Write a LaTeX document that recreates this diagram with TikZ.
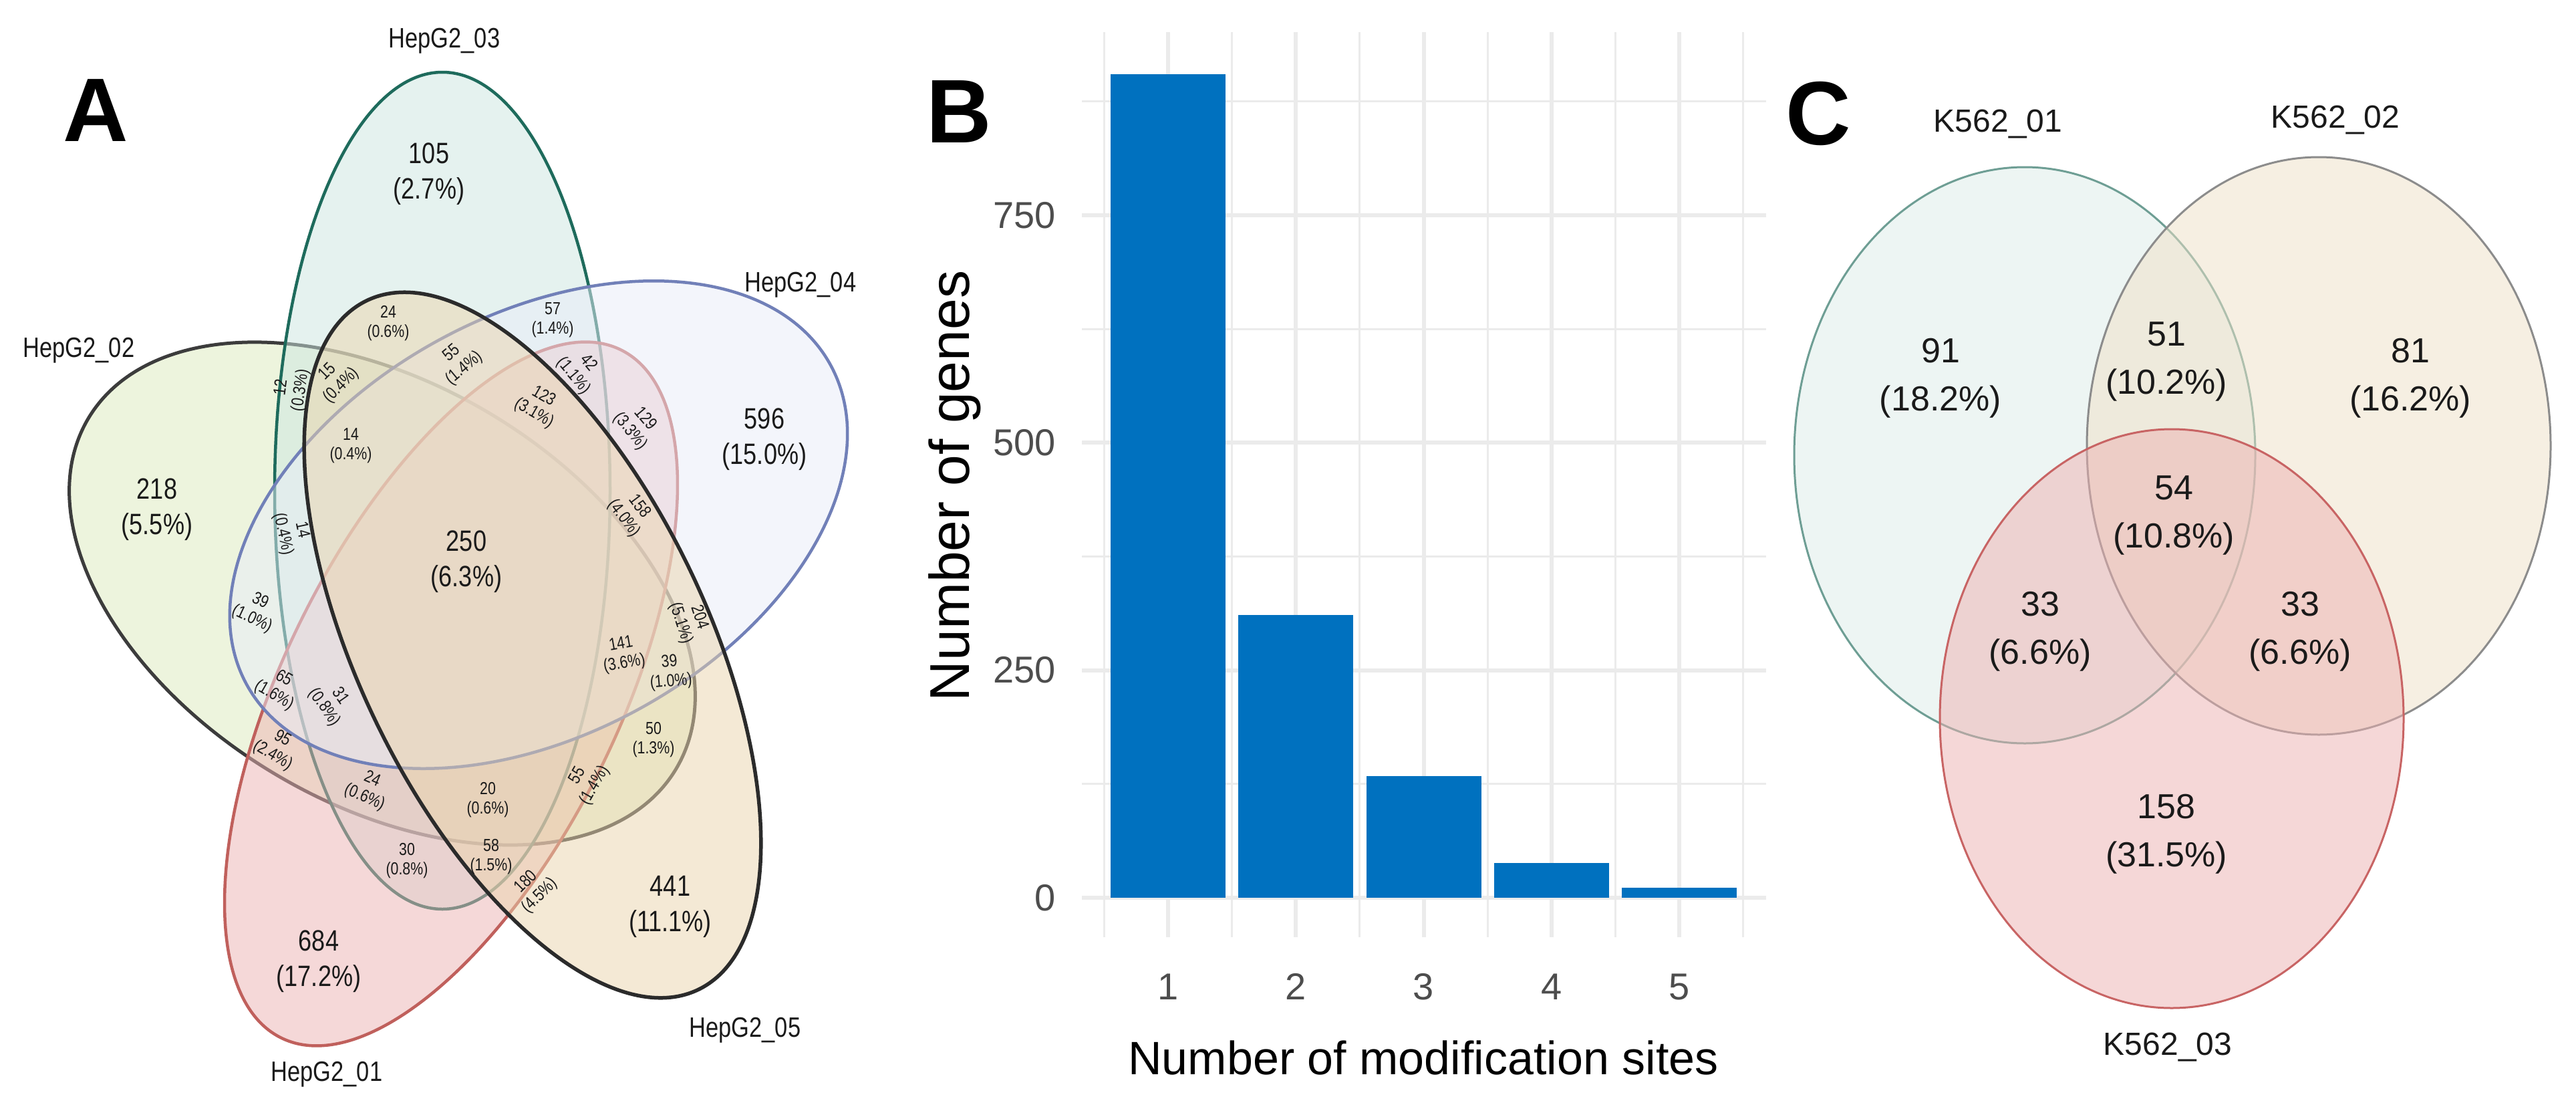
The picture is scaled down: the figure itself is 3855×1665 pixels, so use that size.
\documentclass[tikz,border=0pt]{standalone}
\usepackage{fontspec}
\setmainfont{Liberation Sans}
\newfontfamily\nar[FakeStretch=0.82]{Liberation Sans}
\definecolor{txt}{HTML}{1A1A1A}
\definecolor{b01}{HTML}{C0605C}\definecolor{f01}{HTML}{EDB3B3}
\definecolor{b02}{HTML}{3C3C3C}\definecolor{f02}{HTML}{DDEBBD}
\definecolor{b03}{HTML}{1E6B5C}\definecolor{f03}{HTML}{CDE7E1}
\definecolor{b04}{HTML}{7180B8}\definecolor{f04}{HTML}{E9EDF9}
\definecolor{b05}{HTML}{2B2B2B}\definecolor{f05}{HTML}{EBD5AD}
\definecolor{gridc}{HTML}{EBEBEB}
\definecolor{barc}{HTML}{0071BF}
\definecolor{tick}{HTML}{4D4D4D}
\definecolor{kb1}{HTML}{6E9E94}\definecolor{kf1}{HTML}{DDEDE9}
\definecolor{kb2}{HTML}{8C8C8C}\definecolor{kf2}{HTML}{EFE1C7}
\definecolor{kb3}{HTML}{C86464}\definecolor{kf3}{HTML}{EDB1B1}
\begin{document}
\begin{tikzpicture}[x=1pt,y=-1pt,
  big/.style={font=\nar\fontsize{44}{53}\selectfont, align=center, text=txt, inner sep=0pt},
  sm/.style={font=\nar\fontsize{26}{29}\selectfont, align=center, text=txt, inner sep=0pt},
  setlab/.style={font=\nar\fontsize{42}{50}\selectfont, text=txt, inner sep=0pt},
  panel/.style={font=\fontsize{135}{150}\selectfont\bfseries, inner sep=0pt},
  vset/.style={line width=4.5pt, fill opacity=0.5},
  klab/.style={font=\fontsize{52}{72}\selectfont, align=center, text=txt, inner sep=0pt},
  kset/.style={font=\fontsize{48}{56}\selectfont, text=txt, inner sep=0pt},
  kcirc/.style={line width=3pt, fill opacity=0.5},
  tlab/.style={font=\fontsize{56}{60}\selectfont, text=tick, inner sep=0pt},
  majg/.style={draw=gridc, line width=6pt},
  ming/.style={draw=gridc, line width=3pt},
  bar/.style={fill=barc, draw=none}]
\fill[white] (0,0) rectangle (3855,1665);
\useasboundingbox (0,0) rectangle (3855,1665);

% ---------------- Panel A ----------------
\node[panel] (pA) at (143,165) {A};
\draw[vset, line width=5pt, draw=b02, fill=f02, rotate around={-30.8:(572,888)}] (572,888) ellipse [x radius=512, y radius=314];
\draw[vset, draw=b03, fill=f03] (662,734) ellipse [x radius=251, y radius=626];
\draw[vset, draw=b01, fill=f01, rotate around={63.7:(675,1038)}] (675,1038) ellipse [x radius=574, y radius=250];
\draw[vset, draw=b04, fill=f04, rotate around={28.7:(806,785)}] (806,785) ellipse [x radius=498, y radius=314];
\draw[vset, line width=5.5pt, draw=b05, fill=f05, rotate around={-64.3:(797,965)}] (797,965) ellipse [x radius=572, y radius=261];

\node[setlab] (s03) at (665,61) {HepG2\_03};
\node[setlab] (s04) at (1198,426) {HepG2\_04};
\node[setlab] (s02) at (118,524) {HepG2\_02};
\node[setlab] (s05) at (1115,1541) {HepG2\_05};
\node[setlab] (s01) at (489,1607) {HepG2\_01};

\node[big] (a105) at (642,260) {105\\(2.7\%)};
\node[big] (a596) at (1144,657) {596\\(15.0\%)};
\node[big] (a218) at (235,762) {218\\(5.5\%)};
\node[big] (a250) at (698,840) {250\\(6.3\%)};
\node[big] (a684) at (477,1438) {684\\(17.2\%)};
\node[big] (a441) at (1003,1356) {441\\(11.1\%)};

\node[sm] (r1) at (581,484) {24\\(0.6\%)};
\node[sm] (r2) at (827,479) {57\\(1.4\%)};
\node[sm, rotate=40] (r3) at (686,540) {55\\(1.4\%)};
\node[sm, rotate=82] (r4) at (436,582) {12\\(0.3\%)};
\node[sm, rotate=45] (r5) at (501,567) {15\\(0.4\%)};
\node[sm] (r6) at (525,667) {14\\(0.4\%)};
\node[sm, rotate=-30] (r7) at (806,606) {123\\(3.1\%)};
\node[sm, rotate=-50] (r8) at (869,553) {42\\(1.1\%)};
\node[sm, rotate=-50] (r9) at (954,636) {129\\(3.3\%)};
\node[sm, rotate=-53] (r10) at (945,767) {158\\(4.0\%)};
\node[sm, rotate=-78] (r11) at (437,796) {14\\(0.4\%)};
\node[sm, rotate=-25] (r12) at (383,913) {39\\(1.0\%)};
\node[sm, rotate=-30] (r13) at (417,1028) {65\\(1.6\%)};
\node[sm, rotate=-55] (r14) at (497,1050) {31\\(0.8\%)};
\node[sm, rotate=-30] (r15) at (415,1118) {95\\(2.4\%)};
\node[sm, rotate=-23] (r16) at (551,1180) {24\\(0.6\%)};
\node[sm] (r17) at (730,1197) {20\\(0.6\%)};
\node[sm] (r18) at (609,1288) {30\\(0.8\%)};
\node[sm] (r19) at (735,1282) {58\\(1.5\%)};
\node[sm, rotate=45] (r20) at (798,1330) {180\\(4.5\%)};
\node[sm, rotate=60] (r21) at (878,1168) {55\\(1.4\%)};
\node[sm, rotate=10] (r22) at (932,979) {141\\(3.6\%)};
\node[sm, rotate=5] (r23) at (1003,1006) {39\\(1.0\%)};
\node[sm, rotate=-72] (r24) at (1032,928) {204\\(5.1\%)};
\node[sm] (r25) at (978,1107) {50\\(1.3\%)};

% ---------------- Panel B ----------------
\node[panel] (pB) at (1435,167) {B};
\foreach \yy in {1172.8,832.5,492.2,151.9}{\draw[ming] (1619,\yy) -- (2643,\yy);}
\foreach \xx in {1652.4,1843.6,2034.9,2226.1,2417.4,2608.6}{\draw[ming] (\xx,48) -- (\xx,1402);}
\foreach \yy in {1343,1002.7,662.4,322.0}{\draw[majg] (1619,\yy) -- (2643,\yy);}
\foreach \xx in {1748,1939.25,2130.5,2321.75,2513}{\draw[majg] (\xx,48) -- (\xx,1402);}
\fill[bar] (1662,111) rectangle (1834,1343);
\fill[bar] (1853.25,919.6) rectangle (2025.25,1343);
\fill[bar] (2044.5,1160.6) rectangle (2216.5,1343);
\fill[bar] (2235.75,1291.3) rectangle (2407.75,1343);
\fill[bar] (2427,1328) rectangle (2599,1343);
\node[tlab, anchor=east] (y750) at (1580,322) {750};
\node[tlab, anchor=east] (y500) at (1580,662.4) {500};
\node[tlab, anchor=east] (y250) at (1580,1002.7) {250};
\node[tlab, anchor=east] (y0) at (1580,1343) {0};
\node[tlab] (x1) at (1748,1476) {1};
\node[tlab] (x2) at (1939.25,1476) {2};
\node[tlab] (x3) at (2130.5,1476) {3};
\node[tlab] (x4) at (2321.75,1476) {4};
\node[tlab] (x5) at (2513,1476) {5};
\node[font=\fontsize{70}{80}\selectfont, inner sep=0pt] (xt) at (2130,1582) {Number of modification sites};
\node[font=\fontsize{84}{90}\selectfont, inner sep=0pt, rotate=90] (yt) at (1429,727) {Number of genes};

% ---------------- Panel C ----------------
\node[panel] (pC) at (2721,170) {C};
\draw[kcirc, draw=kb1, fill=kf1] (3030,681) ellipse [x radius=345, y radius=431];
\draw[kcirc, draw=kb2, fill=kf2] (3470,667) ellipse [x radius=347, y radius=432];
\draw[kcirc, draw=kb3, fill=kf3] (3250,1075) ellipse [x radius=347, y radius=433];
\node[kset] (k1) at (2990,186) {K562\_01};
\node[kset] (k2) at (3495,180) {K562\_02};
\node[kset] (k3) at (3244,1566) {K562\_03};
\node[klab] (c91) at (2904,566) {91\\(18.2\%)};
\node[klab] (c51) at (3242,541) {51\\(10.2\%)};
\node[klab] (c81) at (3607,566) {81\\(16.2\%)};
\node[klab] (c54) at (3253,771) {54\\(10.8\%)};
\node[klab] (c33a) at (3053,945) {33\\(6.6\%)};
\node[klab] (c33b) at (3442,945) {33\\(6.6\%)};
\node[klab] (c158) at (3242,1248) {158\\(31.5\%)};
\end{tikzpicture}
\end{document}
